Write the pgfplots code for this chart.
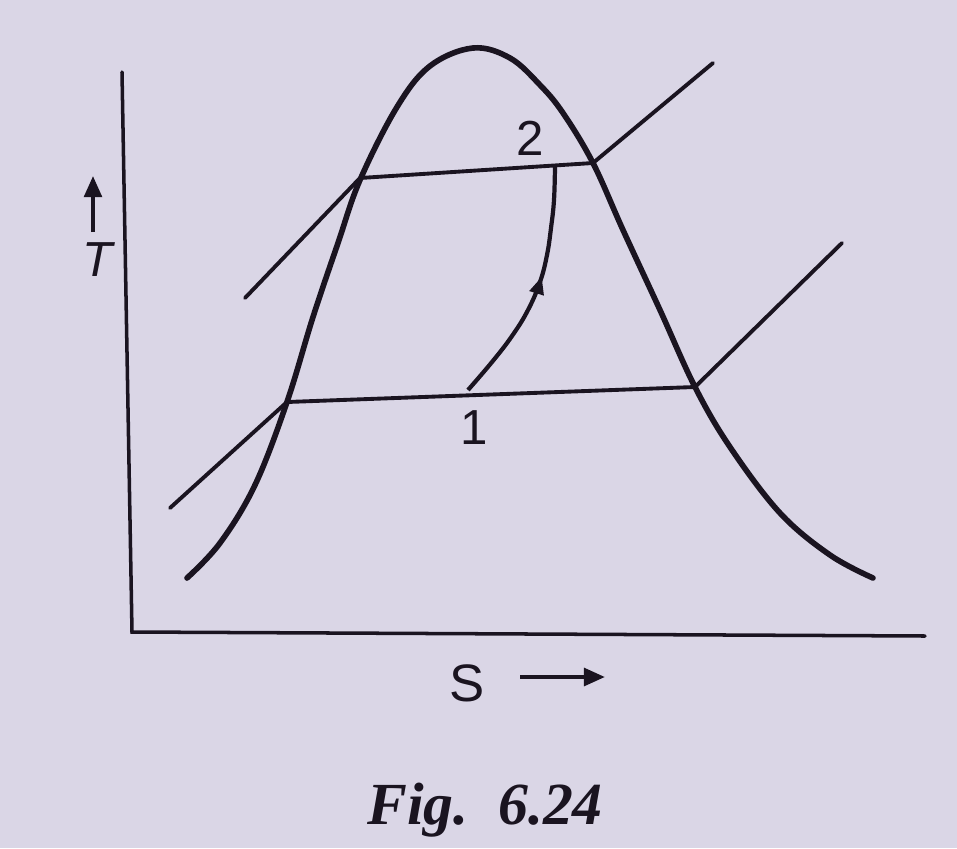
\documentclass[border=0pt]{standalone}
\usepackage{fontspec}
\setmainfont{Liberation Serif}
\newfontfamily\sansf{Liberation Sans}
\usepackage{pgfplots}
\pgfplotsset{compat=1.18}
\usetikzlibrary{decorations.markings, arrows.meta}

\definecolor{paper}{RGB}{218,214,230}
\definecolor{ink}{RGB}{26,20,32}

\begin{document}
\begin{tikzpicture}
\begin{axis}[
    scale only axis,
    width=9.57cm, height=8.48cm,
    xmin=0, xmax=957,
    ymin=0, ymax=848,
    y dir=reverse,
    axis lines=none,
    ticks=none,
    clip=false,
    axis background/.style={fill=paper},
]
% T and s axes
\addplot[ink, line width=1pt, line cap=round] coordinates {(122,72) (132,632) (925,636)};

% saturation dome
\addplot[ink, line width=1.6pt, smooth, tension=0.6, line cap=round] coordinates {
    (187,578) (220,543) (255,485) (287,402)
    (313,317) (338,243) (360,180) (397,107) (430,66)
    (473,48) (510,58) (540,85) (563,113) (593,163) (623,230) (660,310)
    (695,387) (730,447) (780,513) (830,555) (873,578)
};

% upper constant-pressure line
\addplot[ink, line width=1.1pt, line cap=round] coordinates {(245,298) (360,178) (593,163) (713,63)};
% lower constant-pressure line
\addplot[ink, line width=1.1pt, line cap=round] coordinates {(170,508) (287,402) (695,387) (842,243)};

% process 1-2
\addplot[ink, line width=1.2pt, smooth, tension=0.7,
    postaction={decorate},
    decoration={markings, mark=at position 0.55 with {\arrow{Triangle[length=5pt, width=4pt]}}}]
    coordinates {(468,390) (492,362) (512,336) (528,310) (540,282) (547,255) (551,228) (554,200) (555,166)};

% direction arrows of the axis labels
\addplot[ink, line width=1.1pt, -{Triangle[length=6pt, width=5pt]}] coordinates {(93,232) (93,176)};
\addplot[ink, line width=1.2pt, -{Triangle[length=6pt, width=5pt]}] coordinates {(520,677) (605,677)};

\node[text=ink, font=\sansf\fontsize{14}{16}\selectfont] at (axis cs:530,138) {2};
\node[text=ink, font=\sansf\fontsize{14}{16}\selectfont] at (axis cs:474,428) {1};
\node[text=ink, font=\sansf\itshape\fontsize{14}{16}\selectfont] at (axis cs:98,260) {T};
\node[text=ink, font=\sansf\fontsize{15}{17}\selectfont] at (axis cs:467,683) {S};
\node[text=ink, font=\bfseries\itshape\fontsize{17}{20}\selectfont] at (axis cs:485,810) {Fig.\ \ 6.24};
\end{axis}
\end{tikzpicture}
\end{document}
